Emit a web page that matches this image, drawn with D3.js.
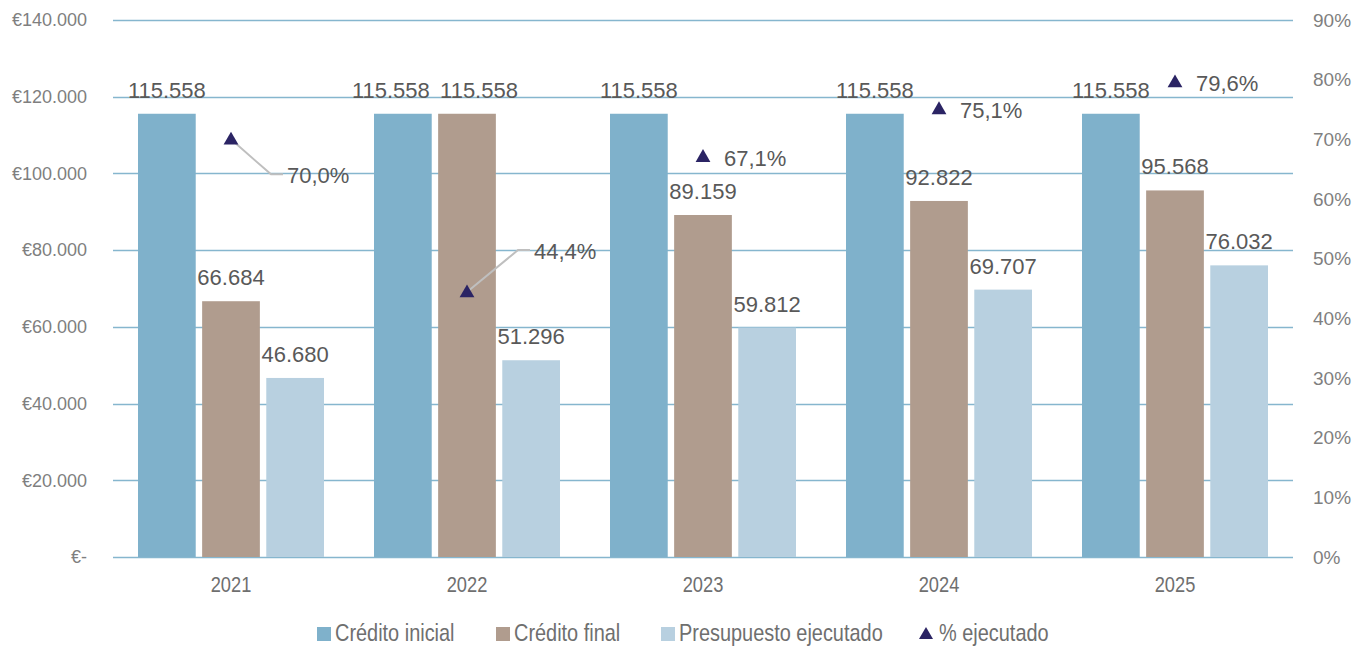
<!DOCTYPE html>
<html>
<head>
<meta charset="utf-8">
<script src="https://cdn.jsdelivr.net/npm/d3@7"></script>
<style>
  body { margin: 0; background: #fff; }
  text { font-family: "Liberation Sans", Arial, sans-serif; }
</style>
</head>
<body>
<script>

    var years = ["2021", "2022", "2023", "2024", "2025"];
    var creditoInicial = [115558, 115558, 115558, 115558, 115558];
    var creditoFinal = [66684, 115558, 89159, 92822, 95568];
    var ejecutado = [46680, 51296, 59812, 69707, 76032];
    var pctEjecutado = [70.0, 44.4, 67.1, 75.1, 79.6];
    var leftTicks = [0, 20000, 40000, 60000, 80000, 100000, 120000, 140000];
    var rightTicks = [0, 10, 20, 30, 40, 50, 60, 70, 80, 90];

    var series = [
        {name: "Crédito inicial", values: creditoInicial, color: "#7fb1cb"},
        {name: "Crédito final", values: creditoFinal, color: "#b09c8e"},
        {name: "Presupuesto ejecutado", values: ejecutado, color: "#b8d0e0"}
    ];

    var W = 1358, H = 646,
        mLeft = 113, mRight = 1293, mTop = 20, mBottom = 557;
    var narrow = 0.83;

    var svg = d3.select("body").append("svg")
        .attr("width", W)
        .attr("height", H);

    var x = d3.scaleBand().domain(years).range([mLeft, mRight]);
    var x1 = d3.scaleBand().domain(d3.range(series.length))
        .range([0, 186]).paddingInner(0.1);
    var yL = d3.scaleLinear().domain([0, 140000]).range([mBottom, mTop]);
    var yR = d3.scaleLinear().domain([0, 90]).range([mBottom, mTop]);

    var euro = function(d) {
        if (d === 0) return "€-";
        return "€" + d3.format(",d")(d).replace(/,/g, ".");
    };
    var miles = function(d) { return d3.format(",d")(d).replace(/,/g, "."); };

    // grid
    svg.append("g").selectAll("line")
        .data(leftTicks)
        .enter().append("line")
        .attr("x1", mLeft).attr("x2", mRight)
        .attr("y1", function(d) { return Math.round(yL(d)) + 0.5; })
        .attr("y2", function(d) { return Math.round(yL(d)) + 0.5; })
        .attr("stroke", "#86b6ce")
        .attr("stroke-width", 1.5);

    // left axis
    var axL = svg.append("g")
        .attr("transform", "translate(" + mLeft + ",0)")
        .call(d3.axisLeft(yL).tickValues(leftTicks).tickFormat(euro).tickSize(0).tickPadding(26));
    axL.select(".domain").remove();
    axL.selectAll("text").attr("fill", "#7f7f7f").style("font-size", "18px")
        .style("font-family", "'Liberation Sans', Arial, sans-serif");

    // right axis
    var axR = svg.append("g")
        .attr("transform", "translate(" + mRight + ",0)")
        .call(d3.axisRight(yR).tickValues(rightTicks).tickFormat(function(d) { return d + "%"; }).tickSize(0).tickPadding(20));
    axR.select(".domain").remove();
    axR.selectAll("text").attr("fill", "#7f7f7f").style("font-size", "19px")
        .style("font-family", "'Liberation Sans', Arial, sans-serif");

    // x axis labels (condensed look)
    svg.append("g").selectAll("text")
        .data(years)
        .enter().append("text")
        .attr("transform", function(d) {
            return "translate(" + (x(d) + x.bandwidth() / 2) + "," + (mBottom + 35) + ") scale(" + narrow + ",1)";
        })
        .attr("text-anchor", "middle")
        .attr("fill", "#6f6f6f")
        .style("font-size", "22px")
        .text(function(d) { return d; });

    // bars
    var groups = svg.append("g").selectAll("g")
        .data(years)
        .enter().append("g")
        .attr("transform", function(d) { return "translate(" + (x(d) + (x.bandwidth() - 186) / 2) + ",0)"; });

    series.forEach(function(s, si) {
        groups.append("rect")
            .attr("x", x1(si))
            .attr("width", x1.bandwidth())
            .attr("y", function(d, i) { return yL(s.values[i]); })
            .attr("height", function(d, i) { return mBottom - yL(s.values[i]); })
            .attr("fill", s.color);

        groups.append("text")
            .attr("x", function(d, i) {
                var cx = x1(si) + x1.bandwidth() / 2;
                // push apart labels of equal-height neighbours
                if (creditoFinal[i] === creditoInicial[i]) {
                    if (si === 0) cx -= 12;
                    if (si === 1) cx += 12;
                }
                return cx;
            })
            .attr("y", function(d, i) { return yL(s.values[i]) - 16; })
            .attr("text-anchor", "middle")
            .attr("fill", "#595959")
            .style("font-size", "22px")
            .text(function(d, i) { return miles(s.values[i]); });
    });

    // % ejecutado points
    var tri = d3.symbol().type(d3.symbolTriangle).size(95);
    var pctX = function(i) { return x(years[i]) + x.bandwidth() / 2; };
    var labelOffset = [
        {dx: 40, dy: 35, leader: true},
        {dx: 51, dy: -42, leader: true},
        {dx: 21, dy: 0},
        {dx: 21, dy: 0},
        {dx: 21, dy: 0}
    ];
    var pctFmt = function(p) { return d3.format(".1f")(p).replace(".", ",") + "%"; };

    pctEjecutado.forEach(function(p, i) {
        var cx = pctX(i), cy = yR(p), o = labelOffset[i];
        if (o.leader) {
            svg.append("polyline")
                .attr("points", [[cx, cy], [cx + o.dx, cy + o.dy], [cx + o.dx + 12, cy + o.dy]].join(" "))
                .attr("fill", "none")
                .attr("stroke", "#bfbfbf")
                .attr("stroke-width", 2);
            svg.append("text")
                .attr("x", cx + o.dx + 16)
                .attr("y", cy + o.dy + 9)
                .attr("fill", "#595959")
                .style("font-size", "22px")
                .text(pctFmt(p));
        } else {
            svg.append("text")
                .attr("x", cx + o.dx)
                .attr("y", cy + 9)
                .attr("fill", "#595959")
                .style("font-size", "22px")
                .text(pctFmt(p));
        }
        svg.append("path")
            .attr("d", tri)
            .attr("transform", "translate(" + cx + "," + (cy + 1) + ")")
            .attr("fill", "#2b2464");
    });

    // legend
    var legendItems = series.map(function(s) { return {name: s.name, color: s.color, type: "rect"}; })
        .concat([{name: "% ejecutado", color: "#2b2464", type: "tri"}]);
    var legendX = [317, 496, 661, 919];
    var lg = svg.append("g").selectAll("g")
        .data(legendItems)
        .enter().append("g")
        .attr("transform", function(d, i) { return "translate(" + legendX[i] + ",634)"; });
    lg.each(function(d) {
        var g = d3.select(this);
        if (d.type === "rect") {
            g.append("rect").attr("x", 0).attr("y", -7).attr("width", 14).attr("height", 14).attr("fill", d.color);
        } else {
            g.append("path").attr("d", d3.symbol().type(d3.symbolTriangle).size(85))
                .attr("transform", "translate(7,1)").attr("fill", d.color);
        }
        g.append("text")
            .attr("transform", "translate(" + (d.type === "rect" ? 18 : 20) + ",7) scale(" + narrow + ",1)")
            .attr("fill", "#6f6f6f")
            .style("font-size", "24px")
            .text(d.name);
    });

</script>
</body>
</html>
